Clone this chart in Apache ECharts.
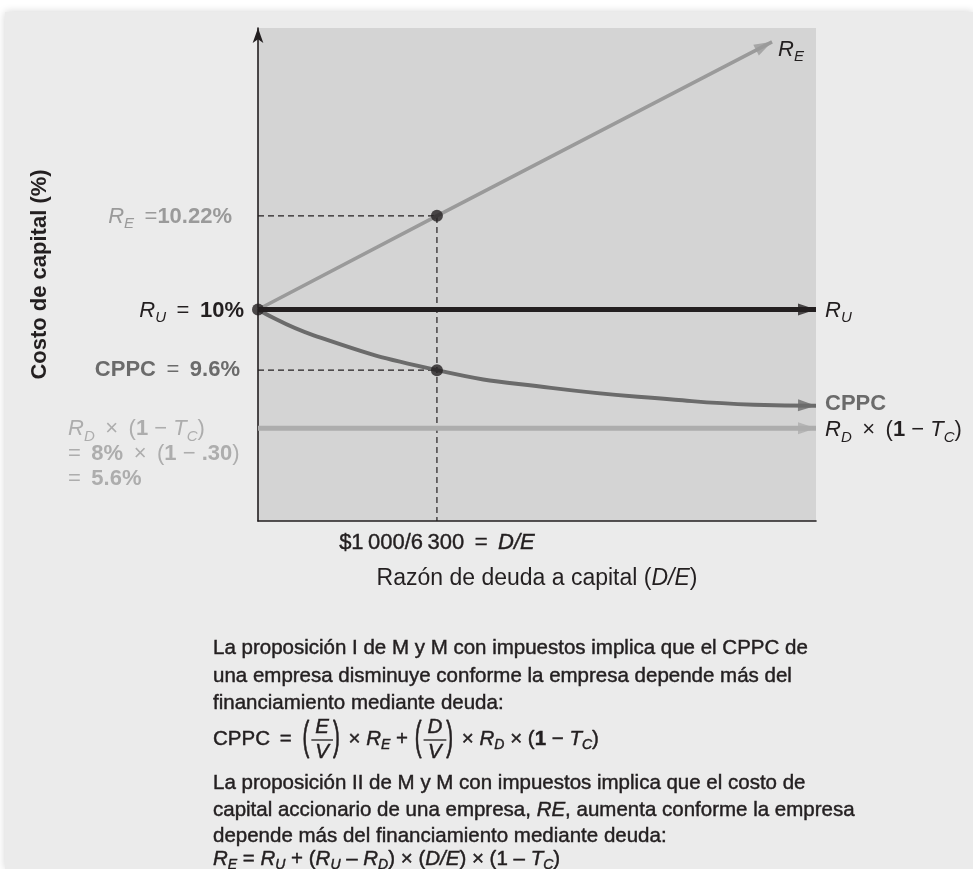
<!DOCTYPE html>
<html lang="es">
<head>
<meta charset="utf-8">
<title>Costo de capital - M y M con impuestos</title>
<script src="https://cdn.jsdelivr.net/npm/echarts@6/dist/echarts.min.js"></script>
<style>
  html, body { margin: 0; padding: 0; background: #ffffff; }
  .card { position: absolute; left: 5px; top: 12px; right: 0; bottom: 0; background: #ebebeb; box-shadow: 0 0 8px rgba(0, 0, 0, 0.18); }
  #chart { position: absolute; left: 0; top: 0; width: 973px; height: 869px; }
</style>
</head>
<body>
<div class="card"></div>
<div id="chart"></div>
<script>
// x = razón deuda/capital (D/E); y = altura en la figura (esquema, no a escala, 0..100)
const xMax = 0.495;
const yMax = 100;
const deMarked = 1000 / 6300;

const ruLine = [[0, 42.9], [0.495, 42.9]];
const reLine = [[0, 42.9], [deMarked, 61.9], [0.456, 97.2]];
const cppcCurve = [[0, 42.9], [0.05, 37.6], [deMarked, 30.6], [0.26, 27.0], [0.37, 24.6], [0.44, 23.6], [0.495, 23.4]];
const rdLine = [[0, 18.8], [0.495, 18.8]];
const reGuide = [[0, 61.9], [deMarked, 61.9], [deMarked, 0]];
const cppcGuide = [[0, 30.6], [deMarked, 30.6]];
const markedPoints = [[0, 42.9], [deMarked, 61.9], [deMarked, 30.6]];

const INK = '#231f20';
const RE_COLOR = '#9a9a9a';
const CPPC_COLOR = '#6b6b6b';
const RD_COLOR = '#adadad';
const SANS = '"Liberation Sans", Arial, Helvetica, sans-serif';
const EQ = ' \u2009=\u2009 ';
const TIMES = ' \u2009×\u2009 ';

const chart = echarts.init(document.getElementById('chart'));

chart.setOption({
  animation: false,
  grid: { left: 258, top: 28, right: 157, bottom: 348, show: true, backgroundColor: '#d4d4d4', borderWidth: 0 },
  xAxis: {
    type: 'value', min: 0, max: xMax,
    name: 'Razón de deuda a capital ({i|D/E})',
    nameLocation: 'middle', nameGap: 46,
    nameTextStyle: {
      fontSize: 23, fontFamily: SANS, color: INK,
      rich: { i: { fontSize: 23, fontFamily: SANS, color: INK, fontStyle: 'italic' } }
    },
    axisLine: { lineStyle: { color: INK, width: 1.6 } },
    axisTick: { show: false }, axisLabel: { show: false }, splitLine: { show: false }
  },
  yAxis: {
    type: 'value', min: 0, max: yMax,
    name: 'Costo de capital (%)',
    nameLocation: 'middle', nameGap: 207,
    nameTextStyle: { fontSize: 22, fontWeight: 'bold', fontFamily: SANS, color: INK },
    axisLine: { lineStyle: { color: INK, width: 1.6 }, symbol: ['none', 'arrow'], symbolSize: [8, 15], symbolOffset: [0, 0] },
    axisTick: { show: false }, axisLabel: { show: false }, splitLine: { show: false }
  }
});

const px = p => chart.convertToPixel({ gridIndex: 0 }, p);

// ---- text helper: runs of [text, kind]; kinds r regular, b bold, i italic, s subscript, f fraction
const ctx = document.createElement('canvas').getContext('2d');
function fontFor(size, kind) {
  const it = kind === 'i' || kind === 's';
  return (it ? 'italic ' : '') + (kind === 'b' ? 'bold ' : '') + size + 'px ' + SANS;
}
function textRun(pieces, x, y, size, color, align, heavy) {
  const parts = pieces.map(([t, k]) => {
    if (k === 'f') {
      ctx.font = fontFor(size, 'r');
      const pw = ctx.measureText('(').width + 3;
      ctx.font = fontFor(size, 'i');
      const fw = Math.max(ctx.measureText(t[0]).width, ctx.measureText(t[1]).width) + 8;
      return { t, k, pw, fw, w: pw * 2 + fw };
    }
    const font = fontFor(k === 's' ? Math.round(size * 0.68) : size, k);
    ctx.font = font;
    return { t, k, font, w: ctx.measureText(t).width, dy: k === 's' ? size * 0.32 : 0 };
  });
  const total = parts.reduce((s, p) => s + p.w, 0);
  let cx = align === 'right' ? x - total : align === 'center' ? x - total / 2 : x;
  const els = [];
  const txt = (s, font, ex, ey, al, extra) => els.push(Object.assign({
    type: 'text', x: ex, y: ey, silent: true,
    style: {
      text: s, font: font, fill: color, align: al, textAlign: al, verticalAlign: 'middle', textVerticalAlign: 'middle',
      stroke: heavy ? color : null, lineWidth: heavy || 0
    }
  }, extra || {}));
  parts.forEach(p => {
    if (p.k === 'f') {
      txt('(', fontFor(size, 'r'), cx + 1, y, 'left', { scaleY: 2.0 });
      const mid = cx + p.pw + p.fw / 2;
      txt(p.t[0], fontFor(size, 'i'), mid, y - size * 0.58, 'center');
      txt(p.t[1], fontFor(size, 'i'), mid, y + size * 0.64, 'center');
      els.push({ type: 'line', silent: true, shape: { x1: cx + p.pw, y1: y + 1, x2: cx + p.pw + p.fw, y2: y + 1 }, style: { stroke: color, lineWidth: 1.3 } });
      txt(')', fontFor(size, 'r'), cx + p.pw + p.fw, y, 'left', { scaleY: 2.0 });
    } else {
      txt(p.t, p.font, cx, y + p.dy, 'left');
    }
    cx += p.w;
  });
  return els;
}

// ---- arrow heads at the end of each line, rotated along the last segment
const ARROW = 'path://M0,0L20,7L0,14Z';
const arrowData = [[reLine, RE_COLOR], [ruLine, INK], [cppcCurve, CPPC_COLOR], [rdLine, RD_COLOR]].map(([line, color]) => {
  const a = px(line[line.length - 2]);
  const b = px(line[line.length - 1]);
  const ang = Math.atan2(a[1] - b[1], b[0] - a[0]);
  return {
    value: line[line.length - 1],
    symbolRotate: ang * 180 / Math.PI,
    symbolOffset: [-9 * Math.cos(ang), 9 * Math.sin(ang)],
    itemStyle: { color: color }
  };
});

const guide = data => ({ type: 'line', data, symbol: 'none', silent: true, z: 1, lineStyle: { color: INK, width: 1.2, type: [6, 4] } });
const solid = (data, color, width, extra) => Object.assign({ type: 'line', data, symbol: 'none', silent: true, z: 2, lineStyle: { color, width } }, extra || {});

// ---- labels
const x0 = px([0, 0])[0];
const reY = px(reGuide[0])[1];
const ruY = px(ruLine[0])[1];
const cppcY = px(cppcGuide[0])[1];
const rdY = px(rdLine[0])[1];
const reTip = px(reLine[reLine.length - 1]);
const ruTip = px(ruLine[ruLine.length - 1]);
const cppcTip = px(cppcCurve[cppcCurve.length - 1]);
const rdTip = px(rdLine[rdLine.length - 1]);
const deX = px([deMarked, 0])[0];
const axisY = px([0, 0])[1];

let els = [];
els = els.concat(textRun([['R', 'i'], ['E', 's'], [' \u2009=', 'r'], ['10.22%', 'b']], x0 - 26, reY + 1, 22, RE_COLOR, 'right'));
els = els.concat(textRun([['R', 'i'], ['U', 's'], [EQ, 'r'], ['10%', 'b']], x0 - 14, ruY + 1, 22, INK, 'right'));
els = els.concat(textRun([['CPPC', 'b'], [EQ, 'r'], ['9.6%', 'b']], x0 - 18, cppcY, 22, CPPC_COLOR, 'right'));
els = els.concat(textRun([['R', 'i'], ['D', 's'], [TIMES + '(', 'r'], ['1', 'b'], [' − ', 'r'], ['T', 'i'], ['C', 's'], [')', 'r']], 68, rdY + 1, 22, RD_COLOR, 'left'));
els = els.concat(textRun([['=\u2009 ', 'r'], ['8%', 'b'], [TIMES + '(', 'r'], ['1', 'b'], [' − ', 'r'], ['.30', 'b'], [')', 'r']], 68, rdY + 26, 22, RD_COLOR, 'left'));
els = els.concat(textRun([['=\u2009 ', 'r'], ['5.6%', 'b']], 68, rdY + 51, 22, RD_COLOR, 'left'));

els = els.concat(textRun([['R', 'i'], ['E', 's']], reTip[0] + 6, reTip[1] + 8, 22, INK, 'left'));
els = els.concat(textRun([['R', 'i'], ['U', 's']], ruTip[0] + 9, ruTip[1] + 1, 22, INK, 'left'));
els = els.concat(textRun([['CPPC', 'b']], cppcTip[0] + 9, cppcTip[1] - 2, 22, CPPC_COLOR, 'left'));
els = els.concat(textRun([['R', 'i'], ['D', 's'], [TIMES + '(', 'r'], ['1', 'b'], [' − ', 'r'], ['T', 'i'], ['C', 's'], [')', 'r']], rdTip[0] + 9, rdTip[1] + 2, 22, INK, 'left'));

els = els.concat(textRun([['$1\u2009000/6\u2009300', 'r'], [EQ, 'r'], ['D/E', 'i']], deX, axisY + 22, 22, INK, 'center', 0.4));

// ---- notes below the chart
const PX0 = 213;
const P = 20.5;
[
  [[['La proposición I de M y M con impuestos implica que el CPPC de', 'r']], 648],
  [[['una empresa disminuye conforme la empresa depende más del', 'r']], 676],
  [[['financiamiento mediante deuda:', 'r']], 703],
  [[['CPPC' + EQ, 'r'], [['E', 'V'], 'f'], [' × ', 'r'], ['R', 'i'], ['E', 's'], [' + ', 'r'], [['D', 'V'], 'f'],
    [' × ', 'r'], ['R', 'i'], ['D', 's'], [' × (', 'r'], ['1', 'b'], [' − ', 'r'], ['T', 'i'], ['C', 's'], [')', 'r']], 739],
  [[['La proposición II de M y M con impuestos implica que el costo de', 'r']], 783],
  [[['capital accionario de una empresa, ', 'r'], ['RE', 'i'], [', aumenta conforme la empresa', 'r']], 810],
  [[['depende más del financiamiento mediante deuda:', 'r']], 836],
  [[['R', 'i'], ['E', 's'], [' = ', 'r'], ['R', 'i'], ['U', 's'], [' + (', 'r'], ['R', 'i'], ['U', 's'], [' – ', 'r'], ['R', 'i'], ['D', 's'],
    [') × (', 'r'], ['D/E', 'i'], [') × (1 – ', 'r'], ['T', 'i'], ['C', 's'], [')', 'r']], 859]
].forEach(([pieces, y]) => { els = els.concat(textRun(pieces, PX0, y, P, INK, 'left', 0.45)); });

chart.setOption({
  series: [
    guide(reGuide),
    guide(cppcGuide),
    solid(rdLine, RD_COLOR, 5),
    solid(cppcCurve, CPPC_COLOR, 4, { smooth: 0.5 }),
    solid(reLine, RE_COLOR, 3.6),
    solid(ruLine, INK, 5),
    { type: 'scatter', data: arrowData, symbol: ARROW, symbolSize: [18, 12], silent: true, z: 3 },
    { type: 'scatter', data: markedPoints, symbolSize: 12, silent: true, z: 4, itemStyle: { color: INK } }
  ],
  graphic: { elements: els }
});
</script>
</body>
</html>
